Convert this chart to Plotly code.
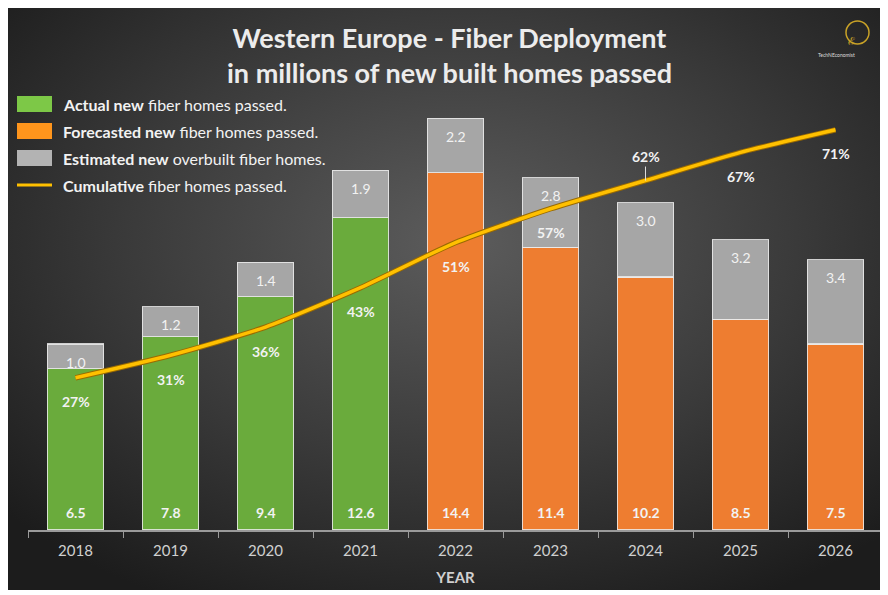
"""
Western Europe - Fiber Deployment (barras apiladas + línea acumulada)
"""

import base64
import plotly.graph_objects as go

# Datos
anios = ["2018", "2019", "2020", "2021", "2022", "2023", "2024", "2025", "2026"]
anios_reales = ["2018", "2019", "2020", "2021"]
anios_previstos = ["2022", "2023", "2024", "2025", "2026"]
nuevos_reales = [6.5, 7.8, 9.4, 12.6]
nuevos_previstos = [14.4, 11.4, 10.2, 8.5, 7.5]
sobreconstruidos = [1.0, 1.2, 1.4, 1.9, 2.2, 2.8, 3.0, 3.2, 3.4]
acumulado_pct = [27, 31, 36, 43, 51, 57, 62, 67, 71]

# La página tiene 8 px de margen en el body: se trabaja en pixeles de pantalla
OFF = 8
W, H = 888 - OFF, 595 - OFF
L, R, T, B = 28, 883, 34, 530  # área de trazado en pantalla


def px(x):
    return (x - L) / (R - L)


def py(y):
    return (B - y) / (B - T)


FUENTE = "Lato"
BLANCO = "#f2f2f2"
BORDE = dict(color="rgba(235,235,235,0.85)", width=1.2)

fig = go.Figure()

fig.add_trace(go.Bar(x=anios_reales, y=nuevos_reales,
                     marker=dict(color="#6aab3c", line=BORDE), showlegend=False))
fig.add_trace(go.Bar(x=anios_previstos, y=nuevos_previstos,
                     marker=dict(color="#ee7d30", line=BORDE), showlegend=False))
fig.add_trace(go.Bar(x=anios, y=sobreconstruidos,
                     marker=dict(color="#a6a6a6", line=BORDE), showlegend=False))

# Línea acumulada (borde oscuro + línea dorada)
fig.add_trace(go.Scatter(
    x=anios, y=acumulado_pct, yaxis="y2", mode="lines",
    line=dict(color="#9a6a00", width=5.5, shape="spline", smoothing=0.6),
    showlegend=False, hoverinfo="skip"
))
fig.add_trace(go.Scatter(
    x=anios, y=acumulado_pct, yaxis="y2", mode="lines",
    line=dict(color="#ffc000", width=3.5, shape="spline", smoothing=0.6),
    showlegend=False
))

# Etiquetas de las barras
nuevos = nuevos_reales + nuevos_previstos
for i, (n, s) in enumerate(zip(nuevos, sobreconstruidos)):
    fig.add_annotation(x=i, y=0, text=f"{n:.1f}", showarrow=False, yshift=18,
                       font=dict(color=BLANCO, size=14, family=FUENTE, weight="bold"))
    fig.add_annotation(x=i, y=n + s, text=f"{s:.1f}", showarrow=False, yshift=-18,
                       font=dict(color=BLANCO, size=14, family=FUENTE))

# Etiquetas de porcentaje
for i, (anio, p) in enumerate(zip(anios, acumulado_pct)):
    if anio == "2024":
        fig.add_annotation(
            x=i, y=p, yref="y2", text=f"{p}%", showarrow=True,
            ax=0, ay=-24, arrowhead=0, arrowwidth=1, arrowcolor="#dddddd",
            font=dict(color=BLANCO, size=14, family=FUENTE, weight="bold")
        )
    else:
        fig.add_annotation(
            x=i, y=p, yref="y2", text=f"{p}%", showarrow=False, yshift=-24,
            font=dict(color=BLANCO, size=14, family=FUENTE, weight="bold")
        )

# Título
fig.add_annotation(
    x=px(449), y=py(55), xref="paper", yref="paper",
    text="Western Europe - Fiber Deployment<br>in millions of new built homes passed",
    showarrow=False, xanchor="center", yanchor="middle",
    font=dict(color="#ececec", size=27, family=FUENTE, weight="bold")
)

# Leyenda manual
leyenda = [
    ("rect", "#7dc847", "<b>Actual new</b> fiber homes passed."),
    ("rect", "#ff951c", "<b>Forecasted new</b> fiber homes passed."),
    ("rect", "#b3b3b3", "<b>Estimated new</b> overbuilt fiber homes."),
    ("line", "#ffc000", "<b>Cumulative</b> fiber homes passed."),
]
for i, (tipo, color, texto) in enumerate(leyenda):
    yc = 104 + i * 27
    if tipo == "rect":
        fig.add_shape(type="rect", xref="paper", yref="paper",
                      x0=px(17), x1=px(52), y0=py(yc - 8), y1=py(yc + 8),
                      fillcolor=color, line=dict(width=0))
    else:
        fig.add_shape(type="line", xref="paper", yref="paper",
                      x0=px(17), x1=px(52), y0=py(yc), y1=py(yc),
                      line=dict(color=color, width=3))
    fig.add_annotation(
        x=px(61), y=py(yc), xref="paper", yref="paper", text=texto,
        showarrow=False, xanchor="left", yanchor="middle",
        font=dict(color=BLANCO, size=16, family=FUENTE)
    )

# Logo
fig.add_shape(type="circle", xref="paper", yref="paper",
              x0=px(846), x1=px(869), y0=py(21), y1=py(44),
              line=dict(color="#c9a227", width=1.5), fillcolor="rgba(0,0,0,0)")
fig.add_annotation(x=px(857), y=py(32), xref="paper", yref="paper", text="ℰ",
                   showarrow=False, font=dict(color="#c9a227", size=11, family=FUENTE))
fig.add_annotation(x=px(857), y=py(50), xref="paper", yref="paper", text="TechNEconomist",
                   showarrow=False, font=dict(color="#dddddd", size=5, family=FUENTE))

# Fondo degradado
svg = (
    '<svg xmlns="http://www.w3.org/2000/svg" width="873" height="582">'
    '<defs><radialGradient id="g" cx="52%" cy="40%" r="70%">'
    '<stop offset="0" stop-color="#5c5c5c"/><stop offset="0.55" stop-color="#3a3a3a"/>'
    '<stop offset="1" stop-color="#1c1c1c"/></radialGradient></defs>'
    '<rect width="873" height="582" fill="url(#g)"/></svg>'
)
fondo = "data:image/svg+xml;base64," + base64.b64encode(svg.encode()).decode()
fig.add_layout_image(
    source=fondo, xref="paper", yref="paper",
    x=px(7), y=py(8), sizex=(880 - 7) / (R - L), sizey=(590 - 8) / (B - T),
    xanchor="left", yanchor="top", sizing="stretch", layer="below"
)

fig.update_layout(
    width=W, height=H,
    margin=dict(l=L - OFF, r=W - (R - OFF), t=T - OFF, b=H - (B - OFF)),
    paper_bgcolor="white", plot_bgcolor="rgba(0,0,0,0)",
    barmode="stack", bargap=0.41,
    font=dict(family=FUENTE, color="#d0d0d0"),
    xaxis=dict(
        type="category", range=[-0.5, 8.5], showline=True, linecolor="#9a9a9a", linewidth=1.5,
        ticks="outside", tickson="boundaries", ticklen=6, tickcolor="#9a9a9a",
        ticklabelstandoff=6,
        tickfont=dict(size=15, color="#d0d0d0", family=FUENTE),
        showgrid=False, zeroline=False,
        title=dict(text="<b>YEAR</b>", standoff=15,
                   font=dict(size=15, color="#d0d0d0", family=FUENTE)),
    ),
    yaxis=dict(range=[0, 20], visible=False, showgrid=False),
    yaxis2=dict(range=[0, 88], overlaying="y", visible=False, showgrid=False),
    showlegend=False,
)

fig.write_html("out.html")
